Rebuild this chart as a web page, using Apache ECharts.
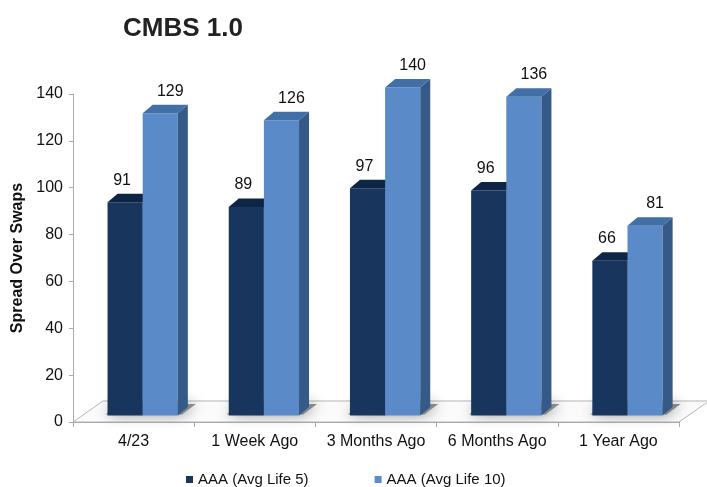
<!DOCTYPE html>
<html>
<head>
<meta charset="utf-8">
<script src="https://cdn.jsdelivr.net/npm/echarts@6/dist/echarts.min.js"></script>
<style>
  html, body { margin: 0; padding: 0; background: #fff; }
  #chart { width: 707px; height: 487px; }
</style>
</head>
<body>
<div id="chart"></div>
<script>
var categories = ['4/23', '1 Week Ago', '3 Months Ago', '6 Months Ago', '1 Year Ago'];
var life5 = [91, 89, 97, 96, 66];
var life10 = [129, 126, 140, 136, 81];
var yTicks = [0, 20, 40, 60, 80, 100, 120, 140];

var FONT = '"Liberation Sans", Arial, sans-serif';
var DX = 10, DY = -8.5, LIFT = 6.5;

// 3d-ish bar drawn from the axis coords
function bar3d(slot, front, topC, sideC, labelDx) {
	return function (params, api) {
		var cat = api.value(0), val = api.value(1);
		var top = api.coord([cat, val]), base = api.coord([cat, 0]);
		var cw = api.size([1, 0])[0];
		var w = cw * 0.29;
		var x0 = top[0] - cw * 0.215 + slot * w;
		var y0 = top[1] - LIFT, y1 = base[1] - LIFT;
		return {
			type: 'group',
			children: [
				{ type: 'rect', shape: { x: x0, y: y0, width: w, height: y1 - y0 }, style: { fill: front } },
				{ type: 'polygon', shape: { points: [[x0, y0], [x0 + DX, y0 + DY], [x0 + w + DX, y0 + DY], [x0 + w, y0]] }, style: { fill: topC } },
				{ type: 'polygon', shape: { points: [[x0 + w, y0], [x0 + w + DX, y0 + DY], [x0 + w + DX, y1 + DY], [x0 + w, y1]] }, style: { fill: sideC } },
				{ type: 'text', style: { text: String(val), x: x0 + w / 2 + labelDx, y: y0 - 22, align: 'center', verticalAlign: 'middle',
					font: '16px ' + FONT, fill: '#111' } }
			]
		};
	};
}

// floor + soft shadows under each bar pair, from the grid rect
function floorItem(params, api) {
	var cs = params.coordSys;
	var x = cs.x, yb = cs.y + cs.height, w = cs.width;
	var cw = w / categories.length;
	var children = [{
		type: 'polygon',
		shape: { points: [[x, yb], [x + w, yb], [x + w + 30, yb - 21], [x + 30, yb - 21]] },
		style: { fill: '#fbfbfb', stroke: '#b5b5b5', lineWidth: 1 }
	}];
	for (var i = 0; i < categories.length; i++) {
		var c = x + (i + 0.5) * cw;
		var bl = c - cw * 0.215;
		var br = bl + cw * 0.58;
		var yf = yb - LIFT;
		children.push({
			type: 'polygon',
			shape: { points: [[bl - 2, yf - 1], [br + 4, yf - 1], [br + DX + 8, yf + DY - 3], [bl + DX, yf + DY - 3]] },
			style: { fill: 'rgba(120,120,120,0.85)', shadowBlur: 14, shadowColor: 'rgba(0,0,0,0.55)' }
		});
	}
	return { type: 'group', children: children };
}

var chart = echarts.init(document.getElementById('chart'), null, { renderer: 'canvas' });

var option = {
	animation: false,
	title: {
		text: 'CMBS 1.0',
		left: 118, top: 11,
		textStyle: { fontFamily: FONT, fontSize: 26, fontWeight: 'bold', color: '#222' }
	},
	legend: {
		left: 181, top: 467,
		icon: 'rect', itemWidth: 7, itemHeight: 7, itemGap: 66,
		textStyle: { fontFamily: FONT, fontSize: 15, color: '#111' },
		data: ['AAA (Avg Life 5)', 'AAA (Avg Life 10)']
	},
	grid: { left: 73, right: 28, top: 94, bottom: 65, containLabel: false },
	xAxis: {
		type: 'category',
		data: categories,
		axisLine: { show: true, lineStyle: { color: '#aaa' } },
		axisTick: { show: true, length: 5, lineStyle: { color: '#aaa' } },
		axisLabel: { interval: 0, margin: 12, fontFamily: FONT, fontSize: 16, color: '#111' },
		z: 5
	},
	yAxis: {
		type: 'value',
		min: yTicks[0], max: yTicks[yTicks.length - 1], interval: 20,
		name: 'Spread Over Swaps',
		nameLocation: 'middle', nameGap: 47,
		nameTextStyle: { fontFamily: FONT, fontSize: 16, fontWeight: 'bold', color: '#111' },
		axisLine: { show: true, lineStyle: { color: '#aaa' } },
		axisTick: { show: true, length: 4, lineStyle: { color: '#aaa' } },
		axisLabel: { margin: 10, fontFamily: FONT, fontSize: 16, color: '#111' },
		splitLine: { show: false }
	},
	series: [
		{
			name: 'floor', type: 'custom', silent: true, z: 1,
			renderItem: floorItem,
			data: [[0, 0]]
		},
		{
			name: 'AAA (Avg Life 5)', type: 'custom', z: 2,
			itemStyle: { color: '#17355d' },
			renderItem: bar3d(0, '#17355d', '#0f2545', '#102846', -3),
			data: life5.map(function (v, i) { return [i, v]; })
		},
		{
			name: 'AAA (Avg Life 10)', type: 'custom', z: 3,
			itemStyle: { color: '#5b8bc8' },
			renderItem: bar3d(1, '#5a8ac7', '#416fa6', '#355a88', 10),
			data: life10.map(function (v, i) { return [i, v]; })
		}
	]
};

chart.setOption(option);
</script>
</body>
</html>
